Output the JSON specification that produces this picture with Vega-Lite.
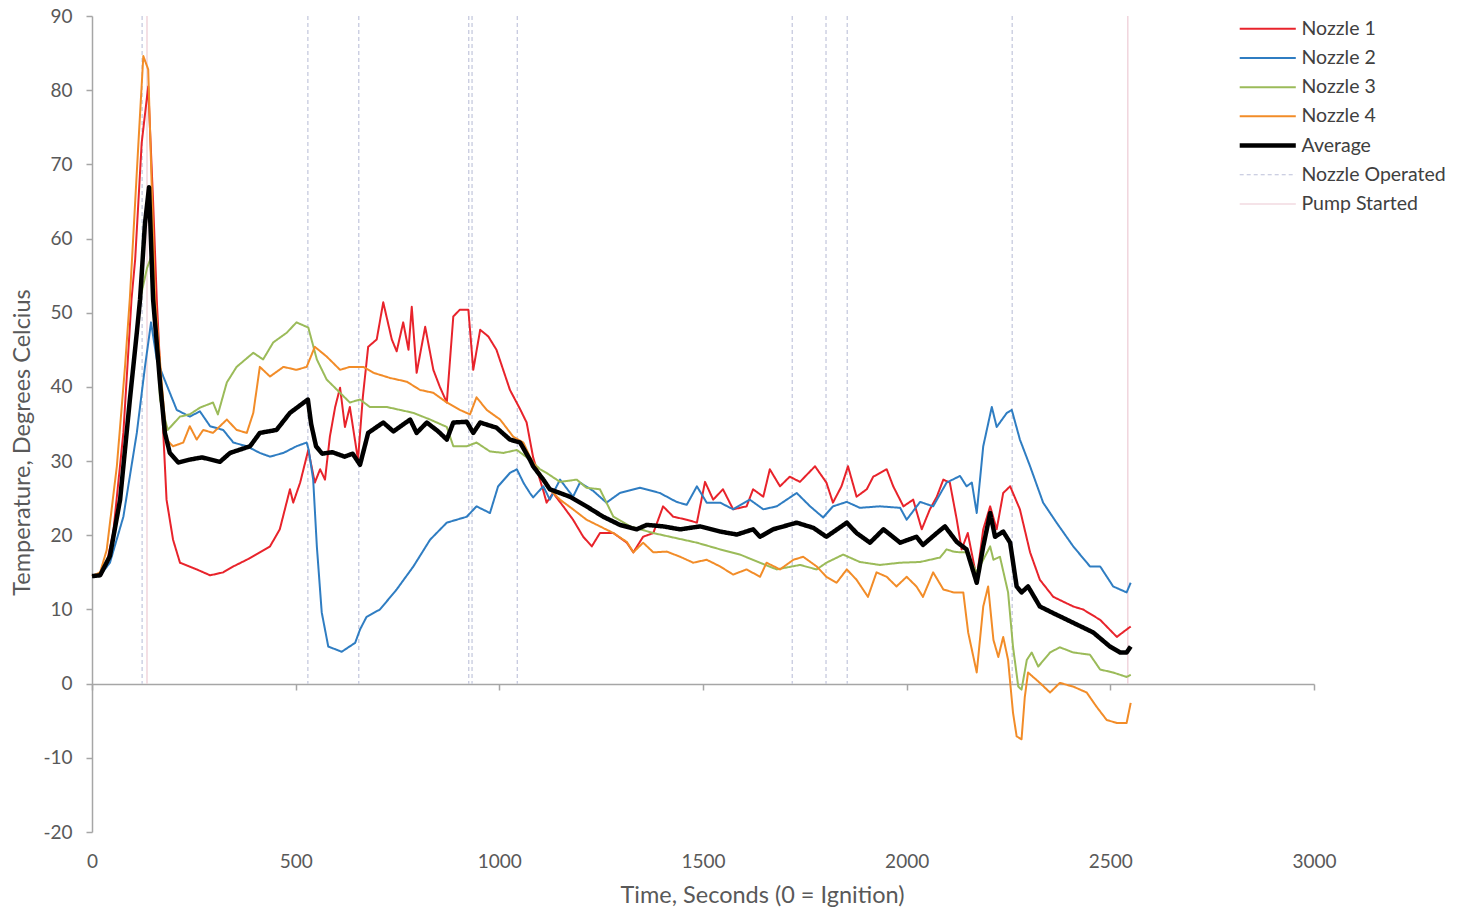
{
"$schema":"https://vega.github.io/schema/vega-lite/v6.json",
"width":1222,"height":816,
"autosize":{"type":"none"},
"padding":{"left":92,"top":16,"right":145,"bottom":78},
"background":"white",
"config":{"font":"Lato","view":{"stroke":null}},
"datasets":{
"events":[
{"series":"Nozzle Operated","t":123},{"series":"Nozzle Operated","t":530},{"series":"Nozzle Operated","t":655},{"series":"Nozzle Operated","t":925},{"series":"Nozzle Operated","t":933},{"series":"Nozzle Operated","t":1044},{"series":"Nozzle Operated","t":1719},{"series":"Nozzle Operated","t":1802},{"series":"Nozzle Operated","t":1854},{"series":"Nozzle Operated","t":2259},
{"series":"Pump Started","t":135},{"series":"Pump Started","t":2543}
],
"lines":[
{"series":"Nozzle 1","t":0,"v":14.5},{"series":"Nozzle 1","t":20,"v":14.8},{"series":"Nozzle 1","t":35,"v":16},{"series":"Nozzle 1","t":52,"v":20.3},{"series":"Nozzle 1","t":77,"v":33.8},{"series":"Nozzle 1","t":97,"v":51.8},{"series":"Nozzle 1","t":106,"v":57.2},{"series":"Nozzle 1","t":122,"v":72.9},{"series":"Nozzle 1","t":138,"v":80.5},{"series":"Nozzle 1","t":150,"v":65},{"series":"Nozzle 1","t":159,"v":51.8},{"series":"Nozzle 1","t":171,"v":38.3},{"series":"Nozzle 1","t":183,"v":24.8},{"series":"Nozzle 1","t":199,"v":19.4},{"series":"Nozzle 1","t":216,"v":16.3},{"series":"Nozzle 1","t":257,"v":15.4},{"series":"Nozzle 1","t":290,"v":14.6},{"series":"Nozzle 1","t":322,"v":15},{"series":"Nozzle 1","t":347,"v":15.8},{"series":"Nozzle 1","t":380,"v":16.7},{"series":"Nozzle 1","t":412,"v":17.7},{"series":"Nozzle 1","t":437,"v":18.5},{"series":"Nozzle 1","t":461,"v":20.8},{"series":"Nozzle 1","t":486,"v":26.2},{"series":"Nozzle 1","t":494,"v":24.4},{"series":"Nozzle 1","t":511,"v":27.1},{"series":"Nozzle 1","t":531,"v":31.5},{"series":"Nozzle 1","t":547,"v":27.1},{"series":"Nozzle 1","t":560,"v":28.9},{"series":"Nozzle 1","t":572,"v":27.5},{"series":"Nozzle 1","t":584,"v":33.3},{"series":"Nozzle 1","t":597,"v":37.3},{"series":"Nozzle 1","t":609,"v":39.9},{"series":"Nozzle 1","t":621,"v":34.6},{"series":"Nozzle 1","t":633,"v":37.3},{"series":"Nozzle 1","t":653,"v":30.2},{"series":"Nozzle 1","t":665,"v":38.7},{"series":"Nozzle 1","t":678,"v":45.4},{"series":"Nozzle 1","t":699,"v":46.4},{"series":"Nozzle 1","t":715,"v":51.4},{"series":"Nozzle 1","t":736,"v":46.4},{"series":"Nozzle 1","t":748,"v":44.8},{"series":"Nozzle 1","t":764,"v":48.7},{"series":"Nozzle 1","t":777,"v":45},{"series":"Nozzle 1","t":785,"v":50.8},{"series":"Nozzle 1","t":797,"v":41.9},{"series":"Nozzle 1","t":818,"v":48.1},{"series":"Nozzle 1","t":838,"v":42.3},{"series":"Nozzle 1","t":854,"v":40},{"series":"Nozzle 1","t":871,"v":37.9},{"series":"Nozzle 1","t":887,"v":49.5},{"series":"Nozzle 1","t":903,"v":50.4},{"series":"Nozzle 1","t":924,"v":50.4},{"series":"Nozzle 1","t":936,"v":42.3},{"series":"Nozzle 1","t":953,"v":47.7},{"series":"Nozzle 1","t":973,"v":46.8},{"series":"Nozzle 1","t":993,"v":45},{"series":"Nozzle 1","t":1026,"v":39.6},{"series":"Nozzle 1","t":1051,"v":37},{"series":"Nozzle 1","t":1067,"v":35.2},{"series":"Nozzle 1","t":1083,"v":30.5},{"series":"Nozzle 1","t":1108,"v":26},{"series":"Nozzle 1","t":1116,"v":24.4},{"series":"Nozzle 1","t":1132,"v":25.7},{"series":"Nozzle 1","t":1157,"v":23.9},{"series":"Nozzle 1","t":1181,"v":22.1},{"series":"Nozzle 1","t":1206,"v":19.8},{"series":"Nozzle 1","t":1227,"v":18.5},{"series":"Nozzle 1","t":1247,"v":20.3},{"series":"Nozzle 1","t":1280,"v":20.3},{"series":"Nozzle 1","t":1313,"v":19},{"series":"Nozzle 1","t":1329,"v":17.7},{"series":"Nozzle 1","t":1353,"v":19.8},{"series":"Nozzle 1","t":1378,"v":20.3},{"series":"Nozzle 1","t":1402,"v":23.9},{"series":"Nozzle 1","t":1427,"v":22.5},{"series":"Nozzle 1","t":1460,"v":22.1},{"series":"Nozzle 1","t":1485,"v":21.7},{"series":"Nozzle 1","t":1505,"v":27.2},{"series":"Nozzle 1","t":1525,"v":24.8},{"series":"Nozzle 1","t":1549,"v":26.2},{"series":"Nozzle 1","t":1574,"v":23.5},{"series":"Nozzle 1","t":1607,"v":23.9},{"series":"Nozzle 1","t":1623,"v":26.2},{"series":"Nozzle 1","t":1648,"v":25.2},{"series":"Nozzle 1","t":1664,"v":28.9},{"series":"Nozzle 1","t":1689,"v":26.6},{"series":"Nozzle 1","t":1713,"v":27.9},{"series":"Nozzle 1","t":1738,"v":27.2},{"series":"Nozzle 1","t":1775,"v":29.3},{"series":"Nozzle 1","t":1803,"v":27.1},{"series":"Nozzle 1","t":1819,"v":24.4},{"series":"Nozzle 1","t":1840,"v":26.6},{"series":"Nozzle 1","t":1856,"v":29.3},{"series":"Nozzle 1","t":1877,"v":25.2},{"series":"Nozzle 1","t":1902,"v":26.2},{"series":"Nozzle 1","t":1918,"v":27.9},{"series":"Nozzle 1","t":1951,"v":28.9},{"series":"Nozzle 1","t":1967,"v":26.6},{"series":"Nozzle 1","t":1992,"v":23.9},{"series":"Nozzle 1","t":2016,"v":24.8},{"series":"Nozzle 1","t":2037,"v":20.8},{"series":"Nozzle 1","t":2057,"v":23.5},{"series":"Nozzle 1","t":2074,"v":25.2},{"series":"Nozzle 1","t":2090,"v":27.5},{"series":"Nozzle 1","t":2106,"v":27.1},{"series":"Nozzle 1","t":2123,"v":22.1},{"series":"Nozzle 1","t":2135,"v":18.1},{"series":"Nozzle 1","t":2150,"v":20.3},{"series":"Nozzle 1","t":2172,"v":14.2},{"series":"Nozzle 1","t":2188,"v":20.8},{"series":"Nozzle 1","t":2205,"v":23.9},{"series":"Nozzle 1","t":2221,"v":20.8},{"series":"Nozzle 1","t":2237,"v":25.7},{"series":"Nozzle 1","t":2254,"v":26.6},{"series":"Nozzle 1","t":2278,"v":23.5},{"series":"Nozzle 1","t":2303,"v":17.7},{"series":"Nozzle 1","t":2327,"v":14},{"series":"Nozzle 1","t":2360,"v":11.7},{"series":"Nozzle 1","t":2409,"v":10.4},{"series":"Nozzle 1","t":2433,"v":10},{"series":"Nozzle 1","t":2475,"v":8.6},{"series":"Nozzle 1","t":2516,"v":6.3},{"series":"Nozzle 1","t":2540,"v":7.3},{"series":"Nozzle 1","t":2550,"v":7.7},

{"series":"Nozzle 2","t":0,"v":14.5},{"series":"Nozzle 2","t":20,"v":14.6},{"series":"Nozzle 2","t":44,"v":16.3},{"series":"Nozzle 2","t":77,"v":22.5},{"series":"Nozzle 2","t":110,"v":33.8},{"series":"Nozzle 2","t":130,"v":42.7},{"series":"Nozzle 2","t":145,"v":48.7},{"series":"Nozzle 2","t":159,"v":43.7},{"series":"Nozzle 2","t":175,"v":41.4},{"series":"Nozzle 2","t":208,"v":36.9},{"series":"Nozzle 2","t":240,"v":36},{"series":"Nozzle 2","t":265,"v":36.7},{"series":"Nozzle 2","t":290,"v":34.7},{"series":"Nozzle 2","t":322,"v":34.2},{"series":"Nozzle 2","t":347,"v":32.5},{"series":"Nozzle 2","t":380,"v":32},{"series":"Nozzle 2","t":412,"v":31.1},{"series":"Nozzle 2","t":437,"v":30.6},{"series":"Nozzle 2","t":470,"v":31.1},{"series":"Nozzle 2","t":502,"v":32},{"series":"Nozzle 2","t":527,"v":32.5},{"series":"Nozzle 2","t":532,"v":31.5},{"series":"Nozzle 2","t":543,"v":27.5},{"series":"Nozzle 2","t":552,"v":18.5},{"series":"Nozzle 2","t":564,"v":9.6},{"series":"Nozzle 2","t":580,"v":5},{"series":"Nozzle 2","t":613,"v":4.3},{"series":"Nozzle 2","t":646,"v":5.5},{"series":"Nozzle 2","t":658,"v":7.3},{"series":"Nozzle 2","t":674,"v":9},{"series":"Nozzle 2","t":707,"v":10},{"series":"Nozzle 2","t":748,"v":12.7},{"series":"Nozzle 2","t":789,"v":15.8},{"series":"Nozzle 2","t":830,"v":19.4},{"series":"Nozzle 2","t":871,"v":21.7},{"series":"Nozzle 2","t":920,"v":22.5},{"series":"Nozzle 2","t":944,"v":23.9},{"series":"Nozzle 2","t":977,"v":23},{"series":"Nozzle 2","t":997,"v":26.6},{"series":"Nozzle 2","t":1026,"v":28.4},{"series":"Nozzle 2","t":1043,"v":28.9},{"series":"Nozzle 2","t":1060,"v":27},{"series":"Nozzle 2","t":1075,"v":25.7},{"series":"Nozzle 2","t":1083,"v":25.1},{"series":"Nozzle 2","t":1108,"v":26.6},{"series":"Nozzle 2","t":1124,"v":24.8},{"series":"Nozzle 2","t":1149,"v":27.5},{"series":"Nozzle 2","t":1181,"v":25.2},{"series":"Nozzle 2","t":1198,"v":27.1},{"series":"Nozzle 2","t":1230,"v":26},{"series":"Nozzle 2","t":1263,"v":24.4},{"series":"Nozzle 2","t":1296,"v":25.7},{"series":"Nozzle 2","t":1345,"v":26.4},{"series":"Nozzle 2","t":1394,"v":25.7},{"series":"Nozzle 2","t":1435,"v":24.5},{"series":"Nozzle 2","t":1460,"v":24.1},{"series":"Nozzle 2","t":1485,"v":26.6},{"series":"Nozzle 2","t":1509,"v":24.4},{"series":"Nozzle 2","t":1542,"v":24.4},{"series":"Nozzle 2","t":1574,"v":23.5},{"series":"Nozzle 2","t":1615,"v":24.8},{"series":"Nozzle 2","t":1648,"v":23.5},{"series":"Nozzle 2","t":1681,"v":23.9},{"series":"Nozzle 2","t":1730,"v":25.7},{"series":"Nozzle 2","t":1763,"v":23.9},{"series":"Nozzle 2","t":1795,"v":22.4},{"series":"Nozzle 2","t":1819,"v":23.9},{"series":"Nozzle 2","t":1853,"v":24.5},{"series":"Nozzle 2","t":1885,"v":23.7},{"series":"Nozzle 2","t":1934,"v":23.9},{"series":"Nozzle 2","t":1984,"v":23.7},{"series":"Nozzle 2","t":2000,"v":22.1},{"series":"Nozzle 2","t":2033,"v":24.5},{"series":"Nozzle 2","t":2065,"v":23.9},{"series":"Nozzle 2","t":2098,"v":27.1},{"series":"Nozzle 2","t":2131,"v":28},{"series":"Nozzle 2","t":2147,"v":26.6},{"series":"Nozzle 2","t":2160,"v":27.1},{"series":"Nozzle 2","t":2172,"v":23},{"series":"Nozzle 2","t":2188,"v":32},{"series":"Nozzle 2","t":2209,"v":37.3},{"series":"Nozzle 2","t":2221,"v":34.6},{"series":"Nozzle 2","t":2246,"v":36.5},{"series":"Nozzle 2","t":2258,"v":36.9},{"series":"Nozzle 2","t":2278,"v":32.9},{"series":"Nozzle 2","t":2303,"v":29.3},{"series":"Nozzle 2","t":2335,"v":24.4},{"series":"Nozzle 2","t":2368,"v":21.7},{"series":"Nozzle 2","t":2409,"v":18.5},{"series":"Nozzle 2","t":2450,"v":15.8},{"series":"Nozzle 2","t":2475,"v":15.8},{"series":"Nozzle 2","t":2507,"v":13.1},{"series":"Nozzle 2","t":2540,"v":12.3},{"series":"Nozzle 2","t":2550,"v":13.6},

{"series":"Nozzle 3","t":0,"v":14.5},{"series":"Nozzle 3","t":20,"v":14.8},{"series":"Nozzle 3","t":44,"v":17.5},{"series":"Nozzle 3","t":69,"v":25},{"series":"Nozzle 3","t":93,"v":38},{"series":"Nozzle 3","t":118,"v":51.8},{"series":"Nozzle 3","t":135,"v":56},{"series":"Nozzle 3","t":145,"v":57.5},{"series":"Nozzle 3","t":155,"v":50},{"series":"Nozzle 3","t":167,"v":38.3},{"series":"Nozzle 3","t":186,"v":34.2},{"series":"Nozzle 3","t":216,"v":36},{"series":"Nozzle 3","t":240,"v":36.3},{"series":"Nozzle 3","t":265,"v":37.2},{"series":"Nozzle 3","t":297,"v":37.9},{"series":"Nozzle 3","t":309,"v":36.3},{"series":"Nozzle 3","t":331,"v":40.6},{"series":"Nozzle 3","t":355,"v":42.7},{"series":"Nozzle 3","t":396,"v":44.6},{"series":"Nozzle 3","t":420,"v":43.7},{"series":"Nozzle 3","t":445,"v":46},{"series":"Nozzle 3","t":478,"v":47.3},{"series":"Nozzle 3","t":502,"v":48.7},{"series":"Nozzle 3","t":531,"v":48},{"series":"Nozzle 3","t":552,"v":43.7},{"series":"Nozzle 3","t":576,"v":41},{"series":"Nozzle 3","t":609,"v":39.2},{"series":"Nozzle 3","t":633,"v":37.9},{"series":"Nozzle 3","t":658,"v":38.3},{"series":"Nozzle 3","t":682,"v":37.3},{"series":"Nozzle 3","t":723,"v":37.3},{"series":"Nozzle 3","t":756,"v":36.9},{"series":"Nozzle 3","t":789,"v":36.5},{"series":"Nozzle 3","t":830,"v":35.6},{"series":"Nozzle 3","t":871,"v":34.6},{"series":"Nozzle 3","t":887,"v":32},{"series":"Nozzle 3","t":920,"v":32},{"series":"Nozzle 3","t":944,"v":32.5},{"series":"Nozzle 3","t":977,"v":31.3},{"series":"Nozzle 3","t":1010,"v":31.1},{"series":"Nozzle 3","t":1043,"v":31.5},{"series":"Nozzle 3","t":1075,"v":30.2},{"series":"Nozzle 3","t":1100,"v":28.9},{"series":"Nozzle 3","t":1116,"v":28.4},{"series":"Nozzle 3","t":1149,"v":27.2},{"series":"Nozzle 3","t":1190,"v":27.5},{"series":"Nozzle 3","t":1214,"v":26.4},{"series":"Nozzle 3","t":1247,"v":26.2},{"series":"Nozzle 3","t":1263,"v":24.4},{"series":"Nozzle 3","t":1280,"v":22.5},{"series":"Nozzle 3","t":1321,"v":21.2},{"series":"Nozzle 3","t":1378,"v":20.3},{"series":"Nozzle 3","t":1427,"v":19.7},{"series":"Nozzle 3","t":1485,"v":19},{"series":"Nozzle 3","t":1542,"v":18.1},{"series":"Nozzle 3","t":1591,"v":17.4},{"series":"Nozzle 3","t":1640,"v":16.3},{"series":"Nozzle 3","t":1681,"v":15.4},{"series":"Nozzle 3","t":1738,"v":16},{"series":"Nozzle 3","t":1779,"v":15.4},{"series":"Nozzle 3","t":1803,"v":16.3},{"series":"Nozzle 3","t":1844,"v":17.4},{"series":"Nozzle 3","t":1885,"v":16.4},{"series":"Nozzle 3","t":1934,"v":16},{"series":"Nozzle 3","t":1984,"v":16.3},{"series":"Nozzle 3","t":2033,"v":16.4},{"series":"Nozzle 3","t":2082,"v":17},{"series":"Nozzle 3","t":2098,"v":18.1},{"series":"Nozzle 3","t":2115,"v":17.8},{"series":"Nozzle 3","t":2131,"v":17.7},{"series":"Nozzle 3","t":2147,"v":17.7},{"series":"Nozzle 3","t":2172,"v":15},{"series":"Nozzle 3","t":2188,"v":16.7},{"series":"Nozzle 3","t":2205,"v":18.5},{"series":"Nozzle 3","t":2213,"v":16.7},{"series":"Nozzle 3","t":2229,"v":17.1},{"series":"Nozzle 3","t":2249,"v":12.3},{"series":"Nozzle 3","t":2261,"v":5},{"series":"Nozzle 3","t":2274,"v":-0.4},{"series":"Nozzle 3","t":2282,"v":-0.8},{"series":"Nozzle 3","t":2295,"v":3.2},{"series":"Nozzle 3","t":2307,"v":4.2},{"series":"Nozzle 3","t":2323,"v":2.3},{"series":"Nozzle 3","t":2352,"v":4.2},{"series":"Nozzle 3","t":2376,"v":4.9},{"series":"Nozzle 3","t":2409,"v":4.2},{"series":"Nozzle 3","t":2450,"v":3.9},{"series":"Nozzle 3","t":2475,"v":1.9},{"series":"Nozzle 3","t":2507,"v":1.5},{"series":"Nozzle 3","t":2540,"v":0.9},{"series":"Nozzle 3","t":2550,"v":1.2},

{"series":"Nozzle 4","t":0,"v":14.5},{"series":"Nozzle 4","t":20,"v":15},{"series":"Nozzle 4","t":36,"v":18},{"series":"Nozzle 4","t":61,"v":29.3},{"series":"Nozzle 4","t":81,"v":42.7},{"series":"Nozzle 4","t":93,"v":52},{"series":"Nozzle 4","t":114,"v":72.9},{"series":"Nozzle 4","t":126,"v":84.6},{"series":"Nozzle 4","t":138,"v":82.8},{"series":"Nozzle 4","t":145,"v":70},{"series":"Nozzle 4","t":155,"v":51.8},{"series":"Nozzle 4","t":171,"v":40.6},{"series":"Nozzle 4","t":183,"v":32.9},{"series":"Nozzle 4","t":199,"v":32},{"series":"Nozzle 4","t":224,"v":32.5},{"series":"Nozzle 4","t":240,"v":34.7},{"series":"Nozzle 4","t":257,"v":32.9},{"series":"Nozzle 4","t":273,"v":34.2},{"series":"Nozzle 4","t":297,"v":33.8},{"series":"Nozzle 4","t":314,"v":34.7},{"series":"Nozzle 4","t":331,"v":35.6},{"series":"Nozzle 4","t":355,"v":34.2},{"series":"Nozzle 4","t":380,"v":33.8},{"series":"Nozzle 4","t":396,"v":36.5},{"series":"Nozzle 4","t":412,"v":42.7},{"series":"Nozzle 4","t":437,"v":41.4},{"series":"Nozzle 4","t":470,"v":42.7},{"series":"Nozzle 4","t":502,"v":42.3},{"series":"Nozzle 4","t":527,"v":42.7},{"series":"Nozzle 4","t":547,"v":45.4},{"series":"Nozzle 4","t":576,"v":44.1},{"series":"Nozzle 4","t":609,"v":42.3},{"series":"Nozzle 4","t":633,"v":42.7},{"series":"Nozzle 4","t":666,"v":42.7},{"series":"Nozzle 4","t":691,"v":41.9},{"series":"Nozzle 4","t":732,"v":41.2},{"series":"Nozzle 4","t":773,"v":40.7},{"series":"Nozzle 4","t":805,"v":39.6},{"series":"Nozzle 4","t":838,"v":39.2},{"series":"Nozzle 4","t":871,"v":37.9},{"series":"Nozzle 4","t":903,"v":36.9},{"series":"Nozzle 4","t":928,"v":36.3},{"series":"Nozzle 4","t":944,"v":38.6},{"series":"Nozzle 4","t":969,"v":36.9},{"series":"Nozzle 4","t":1002,"v":35.6},{"series":"Nozzle 4","t":1034,"v":33.3},{"series":"Nozzle 4","t":1059,"v":32.5},{"series":"Nozzle 4","t":1075,"v":30.6},{"series":"Nozzle 4","t":1108,"v":27.5},{"series":"Nozzle 4","t":1116,"v":26.6},{"series":"Nozzle 4","t":1149,"v":24.8},{"series":"Nozzle 4","t":1181,"v":23.5},{"series":"Nozzle 4","t":1214,"v":22.1},{"series":"Nozzle 4","t":1247,"v":21.2},{"series":"Nozzle 4","t":1280,"v":20.3},{"series":"Nozzle 4","t":1313,"v":19.1},{"series":"Nozzle 4","t":1329,"v":17.7},{"series":"Nozzle 4","t":1353,"v":19},{"series":"Nozzle 4","t":1378,"v":17.7},{"series":"Nozzle 4","t":1411,"v":17.8},{"series":"Nozzle 4","t":1444,"v":17.1},{"series":"Nozzle 4","t":1476,"v":16.3},{"series":"Nozzle 4","t":1509,"v":16.7},{"series":"Nozzle 4","t":1542,"v":15.8},{"series":"Nozzle 4","t":1574,"v":14.7},{"series":"Nozzle 4","t":1607,"v":15.4},{"series":"Nozzle 4","t":1640,"v":14.4},{"series":"Nozzle 4","t":1656,"v":16.3},{"series":"Nozzle 4","t":1689,"v":15.4},{"series":"Nozzle 4","t":1722,"v":16.7},{"series":"Nozzle 4","t":1746,"v":17.1},{"series":"Nozzle 4","t":1779,"v":15.8},{"series":"Nozzle 4","t":1803,"v":14.4},{"series":"Nozzle 4","t":1828,"v":13.6},{"series":"Nozzle 4","t":1853,"v":15.4},{"series":"Nozzle 4","t":1877,"v":14},{"series":"Nozzle 4","t":1905,"v":11.7},{"series":"Nozzle 4","t":1926,"v":15},{"series":"Nozzle 4","t":1951,"v":14.4},{"series":"Nozzle 4","t":1975,"v":13.1},{"series":"Nozzle 4","t":2000,"v":14.4},{"series":"Nozzle 4","t":2024,"v":13.1},{"series":"Nozzle 4","t":2040,"v":11.7},{"series":"Nozzle 4","t":2065,"v":15},{"series":"Nozzle 4","t":2090,"v":12.7},{"series":"Nozzle 4","t":2115,"v":12.3},{"series":"Nozzle 4","t":2139,"v":12.3},{"series":"Nozzle 4","t":2151,"v":6.9},{"series":"Nozzle 4","t":2172,"v":1.5},{"series":"Nozzle 4","t":2188,"v":10.4},{"series":"Nozzle 4","t":2200,"v":13.1},{"series":"Nozzle 4","t":2213,"v":5.9},{"series":"Nozzle 4","t":2225,"v":3.6},{"series":"Nozzle 4","t":2237,"v":6.3},{"series":"Nozzle 4","t":2249,"v":3.2},{"series":"Nozzle 4","t":2261,"v":-3.9},{"series":"Nozzle 4","t":2270,"v":-7.1},{"series":"Nozzle 4","t":2282,"v":-7.5},{"series":"Nozzle 4","t":2290,"v":-1.8},{"series":"Nozzle 4","t":2298,"v":1.5},{"series":"Nozzle 4","t":2327,"v":0.1},{"series":"Nozzle 4","t":2352,"v":-1.2},{"series":"Nozzle 4","t":2376,"v":0.1},{"series":"Nozzle 4","t":2409,"v":-0.4},{"series":"Nozzle 4","t":2442,"v":-1.2},{"series":"Nozzle 4","t":2466,"v":-3.1},{"series":"Nozzle 4","t":2491,"v":-4.9},{"series":"Nozzle 4","t":2516,"v":-5.3},{"series":"Nozzle 4","t":2540,"v":-5.3},{"series":"Nozzle 4","t":2550,"v":-2.6},

{"series":"Average","t":0,"v":14.5},{"series":"Average","t":20,"v":14.6},{"series":"Average","t":44,"v":17.2},{"series":"Average","t":69,"v":24.8},{"series":"Average","t":93,"v":38.3},{"series":"Average","t":110,"v":47.3},{"series":"Average","t":118,"v":51.8},{"series":"Average","t":130,"v":62},{"series":"Average","t":140,"v":66.9},{"series":"Average","t":150,"v":51.8},{"series":"Average","t":167,"v":40.6},{"series":"Average","t":179,"v":33.8},{"series":"Average","t":191,"v":31.1},{"series":"Average","t":212,"v":29.8},{"series":"Average","t":240,"v":30.2},{"series":"Average","t":270,"v":30.5},{"series":"Average","t":314,"v":29.9},{"series":"Average","t":339,"v":31.1},{"series":"Average","t":388,"v":32},{"series":"Average","t":412,"v":33.8},{"series":"Average","t":453,"v":34.2},{"series":"Average","t":486,"v":36.5},{"series":"Average","t":530,"v":38.3},{"series":"Average","t":538,"v":35},{"series":"Average","t":550,"v":32},{"series":"Average","t":565,"v":31},{"series":"Average","t":590,"v":31.2},{"series":"Average","t":620,"v":30.6},{"series":"Average","t":640,"v":31},{"series":"Average","t":658,"v":29.5},{"series":"Average","t":678,"v":33.8},{"series":"Average","t":715,"v":35.2},{"series":"Average","t":740,"v":34},{"series":"Average","t":781,"v":35.6},{"series":"Average","t":797,"v":33.8},{"series":"Average","t":822,"v":35.2},{"series":"Average","t":850,"v":34},{"series":"Average","t":871,"v":32.9},{"series":"Average","t":887,"v":35.2},{"series":"Average","t":920,"v":35.3},{"series":"Average","t":936,"v":33.8},{"series":"Average","t":953,"v":35.2},{"series":"Average","t":993,"v":34.5},{"series":"Average","t":1026,"v":32.9},{"series":"Average","t":1051,"v":32.5},{"series":"Average","t":1075,"v":30.2},{"series":"Average","t":1083,"v":29.3},{"series":"Average","t":1108,"v":27.5},{"series":"Average","t":1124,"v":26.2},{"series":"Average","t":1173,"v":25.2},{"series":"Average","t":1214,"v":23.9},{"series":"Average","t":1255,"v":22.5},{"series":"Average","t":1296,"v":21.4},{"series":"Average","t":1337,"v":20.8},{"series":"Average","t":1362,"v":21.4},{"series":"Average","t":1402,"v":21.2},{"series":"Average","t":1444,"v":20.8},{"series":"Average","t":1493,"v":21.2},{"series":"Average","t":1542,"v":20.5},{"series":"Average","t":1583,"v":20.1},{"series":"Average","t":1623,"v":20.8},{"series":"Average","t":1640,"v":19.8},{"series":"Average","t":1672,"v":20.8},{"series":"Average","t":1730,"v":21.7},{"series":"Average","t":1771,"v":21},{"series":"Average","t":1803,"v":19.8},{"series":"Average","t":1853,"v":21.7},{"series":"Average","t":1877,"v":20.3},{"series":"Average","t":1910,"v":19},{"series":"Average","t":1943,"v":20.8},{"series":"Average","t":1984,"v":19},{"series":"Average","t":2024,"v":19.8},{"series":"Average","t":2040,"v":18.7},{"series":"Average","t":2074,"v":20.3},{"series":"Average","t":2094,"v":21.2},{"series":"Average","t":2123,"v":19.1},{"series":"Average","t":2147,"v":18.1},{"series":"Average","t":2172,"v":13.6},{"series":"Average","t":2188,"v":18.5},{"series":"Average","t":2205,"v":23},{"series":"Average","t":2217,"v":19.8},{"series":"Average","t":2237,"v":20.5},{"series":"Average","t":2254,"v":19},{"series":"Average","t":2270,"v":13.1},{"series":"Average","t":2282,"v":12.3},{"series":"Average","t":2298,"v":13.1},{"series":"Average","t":2327,"v":10.4},{"series":"Average","t":2360,"v":9.5},{"series":"Average","t":2409,"v":8.2},{"series":"Average","t":2458,"v":6.9},{"series":"Average","t":2499,"v":5},{"series":"Average","t":2524,"v":4.2},{"series":"Average","t":2540,"v":4.2},{"series":"Average","t":2550,"v":5}
]
},
"encoding":{
"x":{"field":"t","type":"quantitative","scale":{"domain":[0,3000],"nice":false},
"axis":{"values":[0,500,1000,1500,2000,2500,3000],"labelExpr":"toString(datum.value)","labelFlush":false,"grid":false,"offset":-148,"domainColor":"#A6A6A6","domainWidth":1.5,"tickColor":"#A6A6A6","tickWidth":1.5,"tickSize":6,"labelPadding":162,"labelFontSize":19,"labelColor":"#595959","labelFont":"Lato","title":"Time, Seconds (0 = Ignition)","titleFontSize":23.5,"titleFontWeight":"normal","titleColor":"#595959","titleFont":"Lato","titleX":670,"titleY":218,"titleBaseline":"alphabetic"}},
"color":{"field":"series","type":"nominal","scale":{"domain":["Nozzle 1","Nozzle 2","Nozzle 3","Nozzle 4","Average","Nozzle Operated","Pump Started"],"range":["#E8232B","#2F7DC2","#9BBB59","#F28C28","#000000","#BCC0D9","#EBC6D0"]},
"legend":{"title":null,"orient":"none","legendX":1166,"legendY":3,"symbolType":"M-5.1,0H5.1","symbolSize":121,"labelFontSize":19.5,"labelColor":"#404040","labelFont":"Lato","rowPadding":8.2,"labelOffset":24,"padding":0}},
"strokeWidth":{"field":"series","type":"nominal","scale":{"type":"ordinal","domain":["Nozzle 1","Nozzle 2","Nozzle 3","Nozzle 4","Average","Nozzle Operated","Pump Started"],"range":[2,2,2,2,4.5,1.1,1.1]},"legend":{"title":null}},
"strokeDash":{"field":"series","type":"nominal","scale":{"domain":["Nozzle 1","Nozzle 2","Nozzle 3","Nozzle 4","Average","Nozzle Operated","Pump Started"],"range":[[1,0],[1,0],[1,0],[1,0],[1,0],[4,3],[1,0]]},"legend":{"title":null}}
},
"layer":[
{"data":{"name":"events"},"mark":{"type":"rule"},
"encoding":{"y":{"datum":90,"type":"quantitative"},"y2":{"datum":0}}},
{"data":{"name":"lines"},"mark":{"type":"line","strokeJoin":"round"},
"encoding":{"y":{"field":"v","type":"quantitative","scale":{"domain":[-20,90],"nice":false,"zero":false},
"axis":{"values":[-20,-10,0,10,20,30,40,50,60,70,80,90],"labelExpr":"toString(datum.value)","grid":false,"domainColor":"#A6A6A6","domainWidth":1.5,"tickColor":"#A6A6A6","tickWidth":1.5,"tickSize":6,"labelPadding":14,"labelFontSize":19,"labelColor":"#595959","labelFont":"Lato","title":"Temperature, Degrees Celcius","titleFontSize":23.5,"titleFontWeight":"normal","titleColor":"#595959","titleFont":"Lato","titleX":-63,"titleY":426,"titleAngle":-90,"titleBaseline":"alphabetic"}},
"order":{"field":"t","type":"quantitative"}}}
]
}
